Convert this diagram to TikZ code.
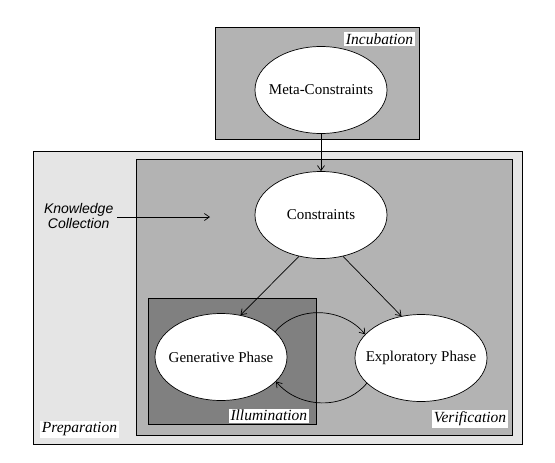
\documentclass[tikz,border=0pt]{standalone}
\usepackage{fontspec}
\setmainfont{Liberation Serif}
\newfontfamily\kcfont{Liberation Sans}
\usetikzlibrary{arrows.meta,shapes.geometric}
\definecolor{prep}{RGB}{229,229,229}
\definecolor{stage}{RGB}{179,179,179}
\definecolor{illum}{RGB}{128,128,128}
\newcommand{\ptxt}[1]{\makebox[80pt]{#1}}

\begin{document}
\begin{tikzpicture}[
  x=1pt, y=-1pt,
  font=\fontsize{15}{17}\selectfont,
  line width=0.7pt,
  >={Straight Barb[length=5pt,width=7pt]},
  phase/.style={ellipse, draw, fill=white, line width=0.7pt,
                minimum width=132pt, minimum height=87pt, inner sep=0pt},
  area/.style={draw, line width=0.9pt},
  tag/.style={fill=white, inner sep=1.5pt, font=\fontsize{15.5}{17}\selectfont\itshape},
  flow/.style={draw, ->},
]
\useasboundingbox (0,0) rectangle (555,463);

% ---------------- stage areas ----------------
\draw[area, fill=stage] (215,27) rectangle (419,139);
\draw[area, fill=prep]  (33,151) rectangle (522,444);
\draw[area, fill=stage] (136,159) rectangle (512,435);
\draw[area, fill=illum] (148,298) rectangle (316,424);

\node[tag, anchor=north east] (incLbl) at (415,32) {Incubation};
\node[tag, anchor=south east] (illLbl) at (309,423) {Illumination};
\node[tag, anchor=south east] (verLbl) at (508,428) {Verification};
\node[tag, anchor=south west] (prpLbl) at (40,438) {Preparation};

% ---------------- phases ----------------
\node[phase] (meta) at (321,90)  {\ptxt{Meta-Constraints}};
\node[phase] (cons) at (321,215) {\ptxt{Constraints}};
\node[phase] (gen)  at (221,357) {\ptxt{Generative Phase}};
\node[phase] (expl) at (421,358) {\ptxt{Exploratory Phase}};

% knowledge input
\node[font=\fontsize{14}{15}\selectfont\kcfont\itshape, align=center, anchor=east] (know) at (117,216)
  {Knowledge\\Collection};
\coordinate (kend) at (210,217);
\draw[flow] (know.east |- kend) -- (kend);

% ---------------- connectors ----------------
\draw[flow] (meta.south) -- (cons.north);
\draw[flow] (cons.-118) -- (gen.65);
\draw[flow] (cons.-62) -- (expl.115);
\draw[flow] (gen.25) to[out=50,in=130] (expl.157);
\draw[flow] (expl.-155) to[out=-130,in=-50] (gen.-24);

\end{tikzpicture}
\end{document}
